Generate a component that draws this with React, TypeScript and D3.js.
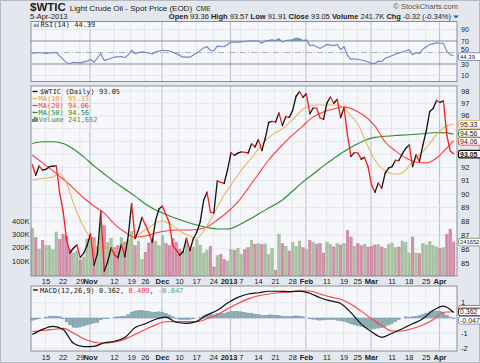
import React from 'react';
import * as d3 from 'd3';

const W = 480;
const H = 363;

// daily closes, Oct 9 2012 .. Apr 5 2013
const closes = [
  92.2, 91.4, 92.1, 91.8, 91.85, 92.05, 92.1, 92.12, 90.05, 88.73, 86.67, 85.73, 86.05, 86.28, 85.4, 85.7,
  86.24, 87.09, 84.86, 85.65, 88.71, 84.44, 85.09, 86.07, 85.57, 85.38, 86.32, 85.45, 86.92, 89.28, 86.75, 87.38,
  88.28, 87.74, 87.18, 86.49, 88.07, 88.91, 89.09, 88.49, 87.88, 86.26, 85.93, 85.56, 85.8, 86.77, 85.89, 86.73,
  87.2, 87.93, 89.51, 90.13, 88.66, 88.61, 90.98, 90.87, 90.8, 91.82, 93.12, 92.92, 93.09, 93.19, 93.15, 93.1,
  93.82, 93.56, 94.14, 93.28, 94.24, 95.49, 95.56, 95.5, 96.24, 95.23, 95.95, 95.88, 96.44, 97.57, 97.94, 97.49,
  97.77, 96.17, 96.64, 96.62, 95.83, 95.72, 97.03, 97.51, 97.01, 97.31, 95.86, 96.66, 94.46, 92.84, 93.13, 93.11,
  92.63, 92.76, 92.05, 90.68, 90.12, 90.82, 90.43, 91.56, 91.95, 92.06, 92.54, 92.52, 93.03, 93.45, 93.73, 92.06,
  92.96, 92.45, 93.71, 94.81, 96.34, 96.58, 97.23, 97.07, 97.19, 94.45, 93.26, 93.05,
];

// volume in thousands
const volumes = [
  345, 275, 190, 255, 215, 215, 185, 318, 262, 300, 285, 190, 160, 175, 110, 130,
  265, 280, 275, 200, 385, 365, 240, 270, 200, 215, 275, 240, 260, 320, 215, 250,
  110, 165, 235, 260, 250, 215, 290, 230, 215, 270, 240, 190, 170, 250, 190, 205,
  260, 220, 160, 180, 210, 55, 140, 150, 110, 100, 185, 180, 195, 150, 185, 200,
  255, 225, 230, 225, 228, 150, 195, 30, 300, 230, 210, 175, 240, 210, 250, 200,
  190, 255, 240, 225, 230, 160, 240, 225, 205, 230, 220, 230, 330, 280, 210, 230,
  215, 225, 205, 210, 220, 225, 205, 195, 225, 235, 200, 205, 250, 240, 160, 280,
  160, 155, 230, 220, 245, 215, 205, 195, 200, 300, 340, 241.652,
];

const ma10Idx = [
  0, 2, 4, 6, 8, 10, 12, 14, 16, 18, 20, 22, 24, 26, 28, 30, 32, 34, 36, 38, 40, 42, 44, 46, 48, 50, 52, 54, 56, 58,
  60, 62, 64, 66, 68, 70, 73, 75, 77, 79, 81, 83, 85, 87, 89, 91, 93, 95, 97, 99, 101, 103, 105, 107, 109, 111, 113,
  115, 117, 119, 121, 123,
];
const ma10 = [
  91.05, 91.12, 91.2, 91.27, 91.54, 90.82, 89.33, 88.08, 87.14, 86.35, 85.99, 85.9, 85.9, 86.03, 86.42, 86.85,
  87.21, 87.5, 87.87, 88.01, 87.83, 87.5, 87.14, 86.93, 86.78, 87.29, 88.08, 89.03, 89.92, 90.67, 91.42, 92.11,
  92.72, 93.41, 94.03, 94.5, 94.97, 95.44, 95.99, 96.55, 96.79, 96.87, 96.87, 96.87, 96.87, 96.63, 95.99, 95.36,
  94.19, 93.02, 92.18, 91.73, 91.54, 91.5, 91.81, 92.41, 92.95, 93.49, 94.19, 94.81, 95.21, 95.33,
];

const maIdx = [
  0, 3, 6, 9, 12, 15, 18, 21, 24, 27, 30, 33, 36, 39, 42, 45, 48, 51, 54, 57, 60, 63, 66, 69, 73, 76, 79, 82, 85,
  88, 91, 94, 97, 100, 103, 106, 109, 112, 115, 118, 121, 123,
];
const ma20 = [
  92.95, 92.34, 91.73, 91.12, 90.44, 89.7, 89.11, 88.59, 87.79, 87.21, 86.85, 86.93, 87.14, 87.29, 87.36, 87.36,
  87.4, 87.58, 88.08, 88.67, 89.41, 90.42, 91.5, 92.56, 93.72, 94.5, 95.21, 95.92, 96.31, 96.55, 96.72, 96.47,
  95.99, 95.21, 93.95, 93.26, 92.72, 92.41, 92.34, 92.72, 93.49, 94.06,
];
const ma50 = [
  93.84, 93.97, 93.97, 93.84, 93.41, 92.8, 92.11, 91.5, 90.9, 90.37, 89.84, 89.26, 88.82, 88.49, 88.19, 87.94,
  87.72, 87.54, 87.43, 87.43, 87.68, 88.08, 88.52, 88.96, 89.55, 90.22, 90.9, 91.5, 92.11, 92.68, 93.22, 93.68,
  94.07, 94.31, 94.4, 94.46, 94.5, 94.55, 94.62, 94.69, 94.66, 94.56,
];

const rsiIdx = [
  0, 2, 4, 6, 7, 8, 9, 10, 11, 12, 14, 16, 17, 18, 20, 21, 23, 24, 26, 27, 28, 29, 30, 32, 34, 35, 36, 38, 40, 42,
  44, 46, 48, 50, 51, 52, 53, 54, 56, 57, 58, 60, 62, 64, 66, 67, 68, 70, 71, 72, 73, 74, 76, 77, 78, 79, 80, 81,
  82, 84, 86, 88, 89, 90, 91, 92, 93, 94, 96, 98, 99, 100, 101, 102, 103, 104, 106, 108, 109, 110, 111, 112, 113,
  114, 115, 116, 117, 118, 119, 120, 121, 122, 123,
];
const rsi = [
  48.5, 50, 48.5, 49.7, 50, 44, 38, 32, 31, 33, 32, 35, 38, 33, 48, 36, 40, 42, 43, 41, 46, 54, 48, 51, 49, 47, 51,
  54, 53, 48, 42, 42, 49, 58, 60, 54, 53, 61, 60, 64, 68, 68, 69, 70.5, 70, 66, 70, 72, 71, 74, 68, 71, 72, 75, 74,
  71, 72, 62, 63, 57, 64, 62, 64, 55, 60, 45, 38, 39, 37, 34, 31.5, 31, 35, 34, 40, 42, 47, 51, 53, 55, 46, 50, 48,
  56, 60, 64, 65, 67, 66, 66, 52, 46, 44.39,
];

const macdIdx = [
  0, 3, 6, 9, 12, 15, 18, 21, 24, 27, 30, 33, 36, 39, 42, 45, 48, 51, 54, 57, 60, 63, 66, 69, 72, 75, 78, 81, 84,
  87, 90, 93, 96, 99, 102, 105, 108, 111, 114, 117, 120, 123,
];
const macd = [
  -1.08, -0.74, -0.55, -0.75, -1.65, -1.87, -1.85, -1.62, -1.52, -1.28, -0.62, -0.38, -0.08, 0.06, -0.28, -0.35,
  -0.22, 0.2, 0.5, 0.98, 1.35, 1.57, 1.65, 1.75, 1.75, 1.72, 1.76, 1.62, 1.32, 1.12, 0.95, 0.35, -0.4, -0.9, -1.26,
  -1.0, -0.7, -0.38, -0.05, 0.5, 0.78, 0.362,
];
const signal = [
  -0.88, -0.82, -0.75, -0.68, -0.98, -1.35, -1.58, -1.65, -1.57, -1.38, -1.08, -0.75, -0.45, -0.25, -0.24, -0.24,
  -0.24, -0.05, 0.22, 0.6, 0.95, 1.25, 1.45, 1.57, 1.65, 1.7, 1.76, 1.76, 1.57, 1.38, 1.22, 0.9, 0.45, -0.05, -0.5,
  -0.85, -0.85, -0.68, -0.45, -0.12, 0.38, 0.409,
];
const hist = [
  -0.15, -0.1, -0.05, 0, 0.05, 0.1, 0.12, 0.12, 0.08, -0.05, -0.25, -0.45, -0.6, -0.62, -0.58, -0.52,
  -0.45, -0.38, -0.32, -0.28, -0.12, -0.05, -0.05, 0, 0.05, 0.08, 0.1, 0.12, 0.22, 0.38, 0.45, 0.48,
  0.5, 0.45, 0.42, 0.38, 0.38, 0.4, 0.38, 0.3, 0.2, 0.08, -0.02, -0.08, -0.1, -0.1, -0.08, -0.05,
  0, 0.05, 0.15, 0.25, 0.22, 0.2, 0.28, 0.3, 0.3, 0.35, 0.42, 0.42, 0.42, 0.4, 0.36, 0.32,
  0.3, 0.25, 0.22, 0.18, 0.18, 0.2, 0.2, 0.18, 0.16, 0.1, 0.1, 0.1, 0.12, 0.14, 0.12, 0.08,
  0, -0.05, -0.08, -0.12, -0.14, -0.12, -0.1, -0.1, -0.1, -0.15, -0.18, -0.22, -0.3, -0.38, -0.45, -0.5,
  -0.55, -0.6, -0.68, -0.72, -0.7, -0.66, -0.62, -0.55, -0.45, -0.35, -0.22, -0.1, 0, 0.08, 0.05, 0.08,
  0.1, 0.15, 0.22, 0.32, 0.4, 0.45, 0.45, 0.42, 0.32, 0.18, 0.05, -0.047,
];

const tickIdx = [4, 9, 14, 17, 24, 29, 33, 38, 43, 48, 53, 58, 61, 66, 71, 76, 80, 86, 91, 95, 99, 105, 110, 115, 119];
const tickLabels = ['15', '22', '29', 'Nov', '12', '19', '26', 'Dec', '10', '17', '24', '2013', '7', '14', '21', '28', 'Feb', '11', '19', '25', 'Mar', '11', '18', '25', 'Apr'];
const monthTicks = ['Nov', 'Dec', '2013', 'Feb', 'Mar', 'Apr'];
const priceTicks = [85, 86, 87, 88, 89, 90, 91, 92, 93, 94, 95, 96, 97, 98];
// labels hidden under the value tags
const priceTicksCovered = [93, 94, 95];
const volTicks = [100, 200, 300, 400];
const rsiTicks = [10, 30, 50, 70, 90];
const macdTicks = [1, -1, -2];

const L = 31;
const R = 457;
const rsiTop = 21.5, rsiBot = 81.5;
const mainTop = 86, mainBot = 276;
const macdTop = 286, macdBot = 351;

const x = d3.scaleLinear().domain([0, closes.length - 1]).range([32.3, 453.7]);
const yP = d3.scaleLog().domain([84.1, 98.4]).range([mainBot, mainTop]);
const yV = d3.scaleLinear().domain([0, 400]).range([274.3, 221]);
const yR = d3.scaleLinear().domain([0, 100]).range([81.25, 23.75]);
const yM = d3.scaleLinear().domain([-2, 1]).range([348.6, 302.7]);

const sans = 'Liberation Sans, Arial, sans-serif';
const mono = 'DejaVu Sans Mono, monospace';
const UP = '#111';
const DOWN = '#ff1a1a';

const smooth = (idx: number[], vals: number[], y: (v: number) => number) =>
  d3.line<number>().x((_, i) => x(idx[i])).y(v => y(v)).curve(d3.curveMonotoneX)(vals) || '';

const Tag = ({ y, text, color, bold, size = 7 }: { y: number; text?: string; color: string; bold?: boolean; size?: number }) => (
  <g>
    <rect x={458.5} y={y - 3.8} width={24} height={7.6} rx={2} fill="#fff" stroke={color} strokeWidth={bold ? 1.2 : 0.9} />
    {text && (
      <text x={460} y={y + size * 0.34} fontSize={size} fontFamily={sans} fontWeight={bold ? 'bold' : 'normal'} fill="#222">{text}</text>
    )}
  </g>
);

const Grid = ({ top, bot }: { top: number; bot: number }) => (
  <g>
    {tickIdx.map((t, i) => (
      <line key={i} x1={x(t) - 0.5} x2={x(t) - 0.5} y1={top} y2={bot}
        stroke={monthTicks.includes(tickLabels[i]) ? '#c3c6d0' : '#e0e2ea'} strokeWidth={monthTicks.includes(tickLabels[i]) ? 1.2 : 0.8} />
    ))}
  </g>
);

const XLabels = ({ y }: { y: number }) => (
  <g fontFamily={sans} fontSize={7.5} fill="#222" textAnchor="middle">
    {tickIdx.map((t, i) => (
      <text key={i} x={x(t) + (tickLabels[i] === '2013' ? -2 : 0)} y={y} fontWeight={monthTicks.includes(tickLabels[i]) ? 'bold' : 'normal'}>{tickLabels[i]}</text>
    ))}
  </g>
);

const App = () => {
  const rsiLine = d3.line<number>().x((_, i) => x(rsiIdx[i])).y(v => yR(v))(rsi) || '';
  const rsiArea = d3.area<number>().x((_, i) => x(rsiIdx[i])).y0(yR(70)).y1(v => yR(v))(rsi) || '';
  const macdLine = smooth(macdIdx, macd, yM);
  const sigLine = smooth(macdIdx, signal, yM);

  return (
    <svg width={W} height={H} style={{ position: 'absolute', left: 0, top: 0 }}>
      <defs>
        <clipPath id="above70"><rect x={L} y={rsiTop} width={R - L} height={yR(70) - rsiTop} /></clipPath>
        <clipPath id="mainClip"><rect x={L} y={mainTop} width={R - L} height={mainBot - mainTop} /></clipPath>
      </defs>
      <rect x={0.5} y={0.5} width={W - 1} height={H - 1} fill="#e4e7ed" stroke="#b4b8c2" />

      {/* header */}
      <text x={30} y={11} fontFamily={sans} fill="#222">
        <tspan fontSize={11.5} fontWeight="bold">$WTIC</tspan>
        <tspan fontSize={8} dx={4}>Light Crude Oil - Spot Price (EOD)</tspan>
        <tspan fontSize={6.5} dx={4}>CME</tspan>
      </text>
      <text x={458} y={9} fontFamily={sans} fontSize={7.5} fill="#555" textAnchor="end">© StockCharts.com</text>
      <text x={30} y={18.5} fontFamily={sans} fontSize={7.5} fill="#222">5-Apr-2013</text>
      <text x={451} y={18.5} fontFamily={sans} fontSize={7.5} fill="#222" textAnchor="end">
        <tspan fontWeight="bold">Open</tspan> 93.36 <tspan fontWeight="bold">High</tspan> 93.57 <tspan fontWeight="bold">Low</tspan> 91.91{' '}
        <tspan fontWeight="bold">Close</tspan> 93.05 <tspan fontWeight="bold">Volume</tspan> 241.7K <tspan fontWeight="bold">Chg</tspan> -0.32 (-0.34%)
      </text>
      <path d="M453,15.5 L459,15.5 L456,18.5 Z" fill="#3a5fb0" />

      {/* RSI panel */}
      <rect x={L} y={rsiTop} width={R - L} height={rsiBot - rsiTop} fill="#f6f7fb" />
      <Grid top={rsiTop} bot={rsiBot} />
      {rsiTicks.map(t => (
        <line key={t} x1={L} x2={R} y1={yR(t)} y2={yR(t)}
          stroke={t === 70 || t === 30 ? '#8a8d96' : t === 50 ? '#9a9ca4' : '#e0e2ea'}
          strokeDasharray={t === 50 ? '6,2,1,2' : undefined} strokeWidth={t === 70 || t === 30 ? 1 : 0.8} />
      ))}
      <path d={rsiArea} fill="#6faa86" clipPath="url(#above70)" />
      <path d={rsiLine} fill="none" stroke="#7480c2" strokeWidth={1.1} />
      <rect x={L} y={rsiTop} width={R - L} height={rsiBot - rsiTop} fill="none" stroke="#8a8d96" />
      <path d="M33,26.5 L35,23 L37,25 L39,22.5 L39,27 L33,27 Z" fill="#8aa0c8" />
      <text x={40.5} y={27} fontFamily={mono} fontSize={7} fill="#222">RSI(14) 44.39</text>
      <g fontFamily={sans} fontSize={7} fill="#222">
        {rsiTicks.map(t => <text key={t} x={461} y={yR(t) + (t === 50 ? -1 : 2.5)}>{t}</text>)}
      </g>
      <Tag y={yR(44.39) + 0.9} text="44.39" color="#7480c2" size={6} />

      {/* main panel */}
      <rect x={L} y={mainTop} width={R - L} height={mainBot - mainTop} fill="#f6f7fb" />
      <Grid top={mainTop} bot={mainBot} />
      {priceTicks.map(t => (
        <line key={t} x1={L} x2={R} y1={yP(t)} y2={yP(t)} stroke="#e0e2ea" strokeWidth={0.8} />
      ))}
      <g clipPath="url(#mainClip)">
        {volumes.map((v, i) => {
          const up = i === 0 || closes[i] >= closes[i - 1];
          return (
            <rect key={i} x={x(i) - 1.3} y={yV(v)} width={2.6} height={mainBot - yV(v)}
              fill={up ? '#a9c3a2' : '#d68fab'} stroke={up ? '#93b08c' : '#c0708f'} strokeWidth={0.4} />
          );
        })}
        <path d={smooth(maIdx, ma50, yP)} fill="none" stroke="#2f8a2f" strokeWidth={1.1} />
        <path d={smooth(maIdx, ma20, yP)} fill="none" stroke="#ff3b3b" strokeWidth={1.1} />
        <path d={smooth(ma10Idx, ma10, yP)} fill="none" stroke="#eab55a" strokeWidth={1.1} />
        {closes.slice(1).map((c, j) => {
          const i = j + 1;
          return (
            <line key={i} x1={x(i - 1)} y1={yP(closes[i - 1])} x2={x(i)} y2={yP(c)}
              stroke={c < closes[i - 1] ? DOWN : UP} strokeWidth={1.3} strokeLinecap="round" />
          );
        })}
      </g>
      <rect x={L} y={mainTop} width={R - L} height={mainBot - mainTop} fill="none" stroke="#8a8d96" />
      <g fontFamily={mono} fontSize={7}>
        <line x1={32.5} x2={37.5} y1={91.5} y2={91.5} stroke="#111" strokeWidth={1.3} />
        <text x={40} y={94} fill="#222">$WTIC (Daily) 93.05</text>
        <line x1={32.5} x2={37.5} y1={98.5} y2={98.5} stroke="#eab55a" strokeWidth={1.3} />
        <text x={38.5} y={101} fill="#e0a040">MA(10) 95.33</text>
        <line x1={32.5} x2={37.5} y1={105.5} y2={105.5} stroke="#ff3b3b" strokeWidth={1.3} />
        <text x={38.5} y={108} fill="#ff3b3b">MA(20) 94.06</text>
        <line x1={32.5} x2={37.5} y1={112.5} y2={112.5} stroke="#2f8a2f" strokeWidth={1.3} />
        <text x={38.5} y={115} fill="#2f8a2f">MA(50) 94.56</text>
        <path d="M32.5,122 v-3 h1 v3 M34.5,122 v-5 h1 v5 M36.5,122 v-4 h1 v4" stroke="#5a8a5a" strokeWidth={0.9} fill="none" />
        <text x={38.5} y={122} fill="#4e8a4e">Volume 241,652</text>
      </g>
      <g fontFamily={sans} fontSize={7.5} fill="#222">
        {priceTicks.filter(t => !priceTicksCovered.includes(t)).map(t => <text key={t} x={461} y={yP(t) + 2.6}>{t}</text>)}
        {volTicks.map(t => <text key={t} x={29.5} y={yV(t) + 2.6} textAnchor="end">{t}K</text>)}
      </g>
      <Tag y={yP(95.33)} text="95.33" color="#eab55a" />
      <Tag y={yP(94.56) - 0.8} text="94.56" color="#2f8a2f" />
      <Tag y={yP(94.06) + 0.8} text="94.06" color="#ff3b3b" />
      <Tag y={yP(93.05) + 0.5} text="93.05" color="#111" bold />
      <Tag y={yV(241.652)} text="241652" color="#7a9a76" size={5.8} />
      <XLabels y={284} />

      {/* MACD panel */}
      <rect x={L} y={macdTop} width={R - L} height={macdBot - macdTop} fill="#f6f7fb" />
      <Grid top={macdTop} bot={macdBot} />
      {[1, 0, -1, -2].map(t => (
        <line key={t} x1={L} x2={R} y1={yM(t)} y2={yM(t)} stroke="#e0e2ea" strokeWidth={0.8} />
      ))}
      {hist.map((h, i) => (
        <rect key={i} x={x(i) - 1.4} y={Math.min(yM(h), yM(0))} width={2.8} height={Math.abs(yM(h) - yM(0))}
          fill="#86b3a0" stroke="#7d8cc6" strokeWidth={0.5} />
      ))}
      <path d={sigLine} fill="none" stroke="#ff4040" strokeWidth={1.1} />
      <path d={macdLine} fill="none" stroke="#111" strokeWidth={1.2} />
      <rect x={L} y={macdTop} width={R - L} height={macdBot - macdTop} fill="none" stroke="#8a8d96" />
      <line x1={33} x2={38} y1={290} y2={290} stroke="#111" strokeWidth={1.3} />
      <text x={40} y={292.5} fontFamily={mono} fontSize={7} fill="#222">
        MACD(12,26,9) 0.362, <tspan fill="#ff3b3b">0.409</tspan>, <tspan fill="#5e9e86">-0.047</tspan>
      </text>
      <g fontFamily={sans} fontSize={7.5} fill="#222">
        {macdTicks.map(t => <text key={t} x={461} y={yM(t) + 2.6}>{t}</text>)}
      </g>
      {/* signal tag sits behind the MACD tag, only its red edge shows */}
      <Tag y={yM(0.409) - 2.5} color="#ff3b3b" />
      <Tag y={yM(0.362) - 0.5} text="0.362" color="#111" />
      <Tag y={yM(-0.047) + 1.5} text="-0.047" color="#7d8cc6" />
      <XLabels y={359.5} />
    </svg>
  );
};

export default App;
